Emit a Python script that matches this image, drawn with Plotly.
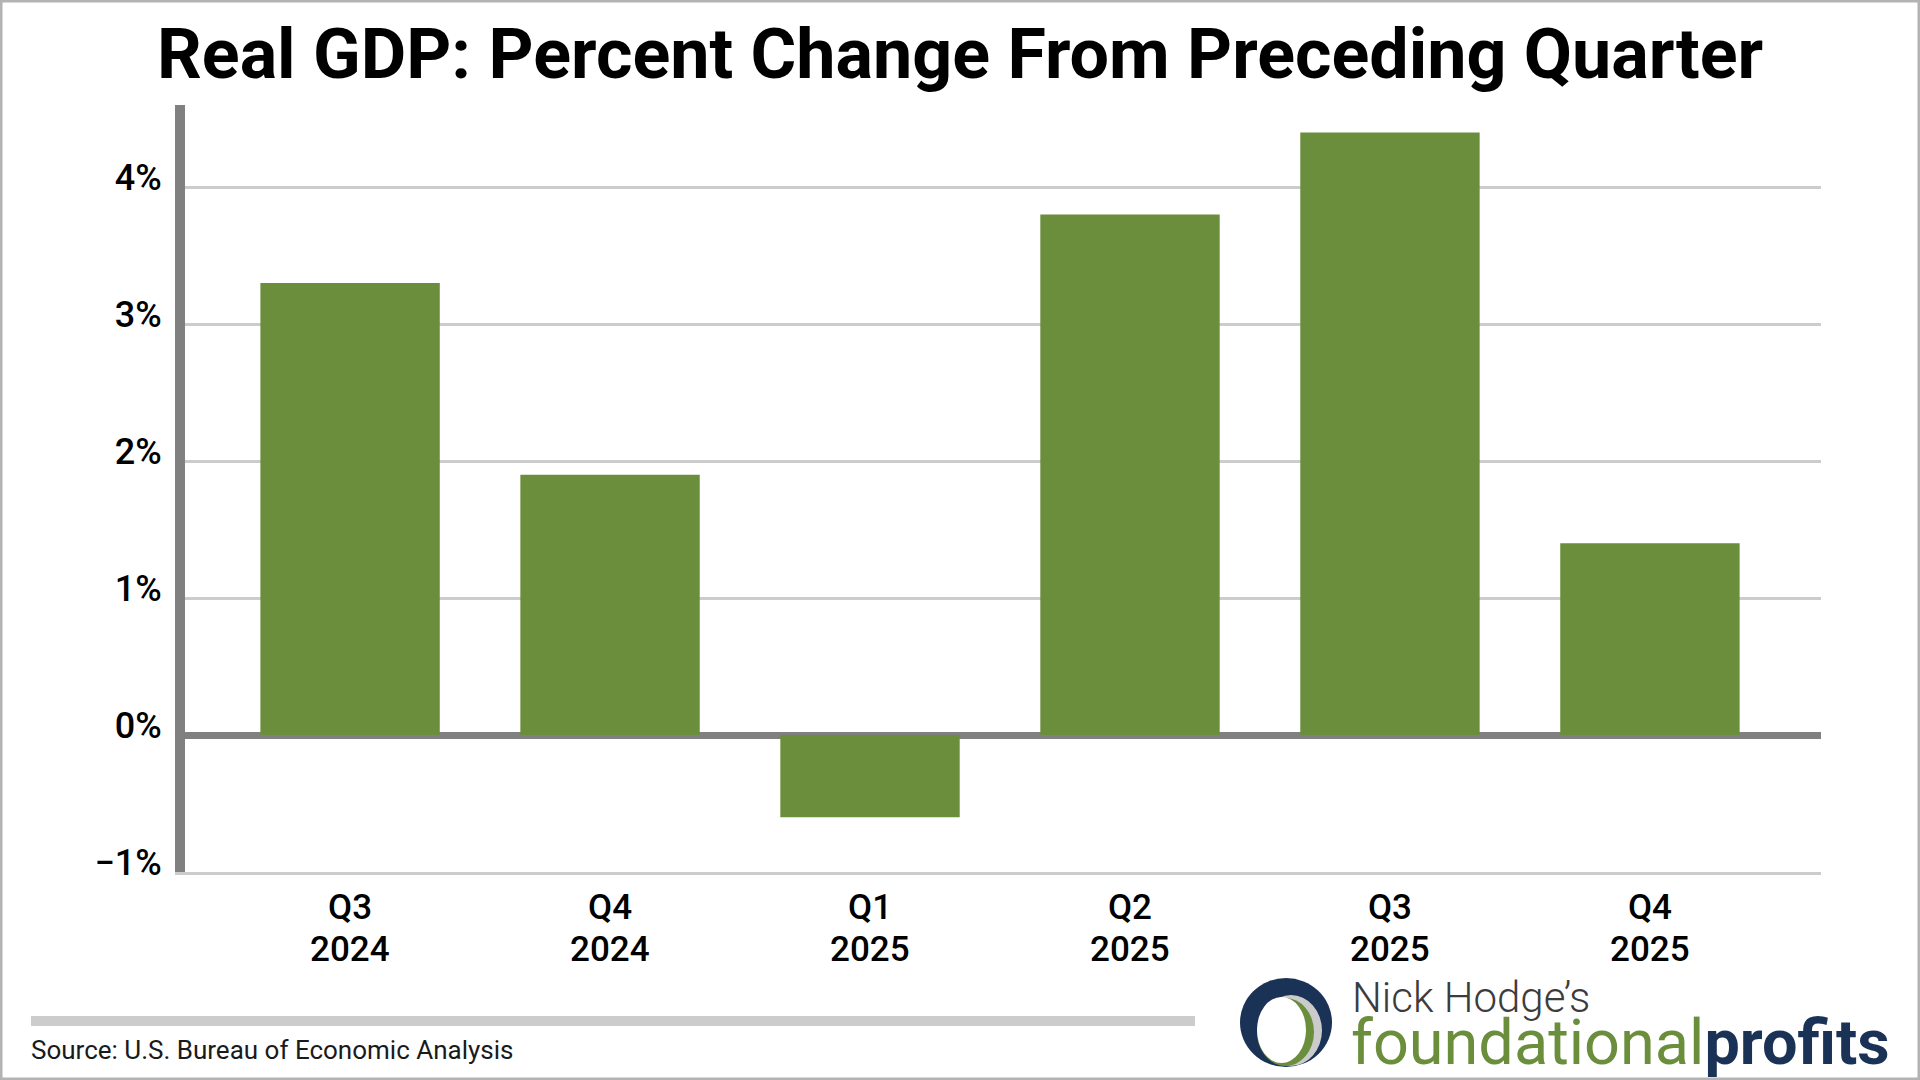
import plotly.graph_objects as go

# ---- data ----
quarter_labels = ["Q3", "Q4", "Q1", "Q2", "Q3", "Q4"]
year_labels = ["2024", "2024", "2025", "2025", "2025", "2025"]
gdp_change = [3.3, 1.9, -0.6, 3.8, 4.4, 1.4]
y_tick_vals = [-1, 0, 1, 2, 3, 4]
y_tick_text = ["\u22121%", "0%", "1%", "2%", "3%", "4%"]

title_text = "Real GDP: Percent Change From Preceding Quarter"
source_text = "Source: U.S. Bureau of Economic Analysis"

# ---- layout geometry (pixels) ----
W_FIG, H_FIG = 1920, 1080
L, R, T, B = 185, 99, 105, 208
PW = W_FIG - L - R
PH = H_FIG - T - B

def px(x):
    return (x - L) / PW

def py(y):
    return (H_FIG - B - y) / PH

GREEN = "#6a8e3c"
NAVY = "#1b3257"
FONT = "Roboto"

positions = list(range(len(gdp_change)))

fig = go.Figure()
fig.add_trace(go.Bar(
    x=positions,
    y=gdp_change,
    marker=dict(color=GREEN, line=dict(width=0)),
    width=0.69,
    hoverinfo="skip",
))

shapes = []
# outer frame
shapes.append(dict(type="rect", xref="paper", yref="paper",
                   x0=px(1), x1=px(W_FIG - 1), y0=py(H_FIG - 1), y1=py(1),
                   line=dict(color="#b3b3b3", width=3), fillcolor="rgba(0,0,0,0)", layer="above"))
# source separator bar
shapes.append(dict(type="rect", xref="paper", yref="paper",
                   x0=px(31), x1=px(1195), y0=py(1026), y1=py(1016),
                   line=dict(width=0), fillcolor="#cccccc"))
# logo ellipses
def ell(x0, x1, y0, y1, color):
    return dict(type="circle", xref="paper", yref="paper",
                x0=px(x0), x1=px(x1), y0=py(y1), y1=py(y0),
                line=dict(width=0), fillcolor=color, layer="above")
shapes.append(ell(1240, 1332, 978, 1067, NAVY))
shapes.append(ell(1260, 1322, 995, 1066, "#cbcbcb"))
shapes.append(ell(1257, 1314, 998, 1066, GREEN))
shapes.append(ell(1257, 1306, 997, 1063, "#ffffff"))

annotations = []
annotations.append(dict(xref="paper", yref="paper", x=px(960), y=py(54.5),
                        text="<b>" + title_text + "</b>", showarrow=False,
                        xanchor="center", yanchor="middle",
                        font=dict(family=FONT, size=70, color="#000000")))
annotations.append(dict(xref="paper", yref="paper", x=px(29), y=py(1050),
                        text=source_text, showarrow=False,
                        xanchor="left", yanchor="middle",
                        font=dict(family=FONT, size=26, color="#1a1a1a")))
annotations.append(dict(xref="paper", yref="paper", x=px(1350), y=py(997.5),
                        text="Nick Hodge\u2019s", showarrow=False,
                        xanchor="left", yanchor="middle",
                        font=dict(family=FONT, size=42, color="#3c3c3c", weight=300)))
annotations.append(dict(xref="paper", yref="paper", x=px(1349), y=py(1042.5),
                        text="<span style='color:%s'>foundational</span><b>profits</b>" % GREEN,
                        showarrow=False, xanchor="left", yanchor="middle",
                        font=dict(family=FONT, size=63, color=NAVY)))
# second row of category labels (years)
for xi, yr in zip(positions, year_labels):
    annotations.append(dict(xref="x", yref="paper", x=xi, y=py(949),
                            text=yr, showarrow=False,
                            xanchor="center", yanchor="middle",
                            font=dict(family=FONT, size=35, color="#000000", weight=500)))

fig.update_layout(
    width=W_FIG, height=H_FIG,
    margin=dict(l=L, r=R, t=T, b=B, pad=0),
    paper_bgcolor="#ffffff", plot_bgcolor="#ffffff",
    showlegend=False,
    bargap=0.31,
    shapes=shapes,
    annotations=annotations,
    font=dict(family=FONT),
)
fig.update_xaxes(
    range=[-0.635, 5.658],
    tickvals=positions,
    ticktext=quarter_labels,
    tickfont=dict(family=FONT, size=35, color="#000000", weight=500),
    showgrid=False, zeroline=False,
    showline=True, linecolor="#cccccc", linewidth=3,
    ticks="", ticklabelstandoff=2,
    fixedrange=True,
)
fig.update_yaxes(
    range=[-1, 4.6],
    tickvals=y_tick_vals,
    ticktext=y_tick_text,
    tickfont=dict(family=FONT, size=36, color="#000000", weight=500),
    showgrid=True, gridcolor="#cccccc", gridwidth=3,
    zeroline=True, zerolinecolor="#808080", zerolinewidth=7,
    showline=True, linecolor="#808080", linewidth=10,
    ticks="", ticklabelstandoff=6, ticklabelshift=-10,
    fixedrange=True,
)

fig.write_html("out.html", config={"displayModeBar": False},
               post_script="document.body.style.margin='0';document.body.style.overflow='hidden';")
